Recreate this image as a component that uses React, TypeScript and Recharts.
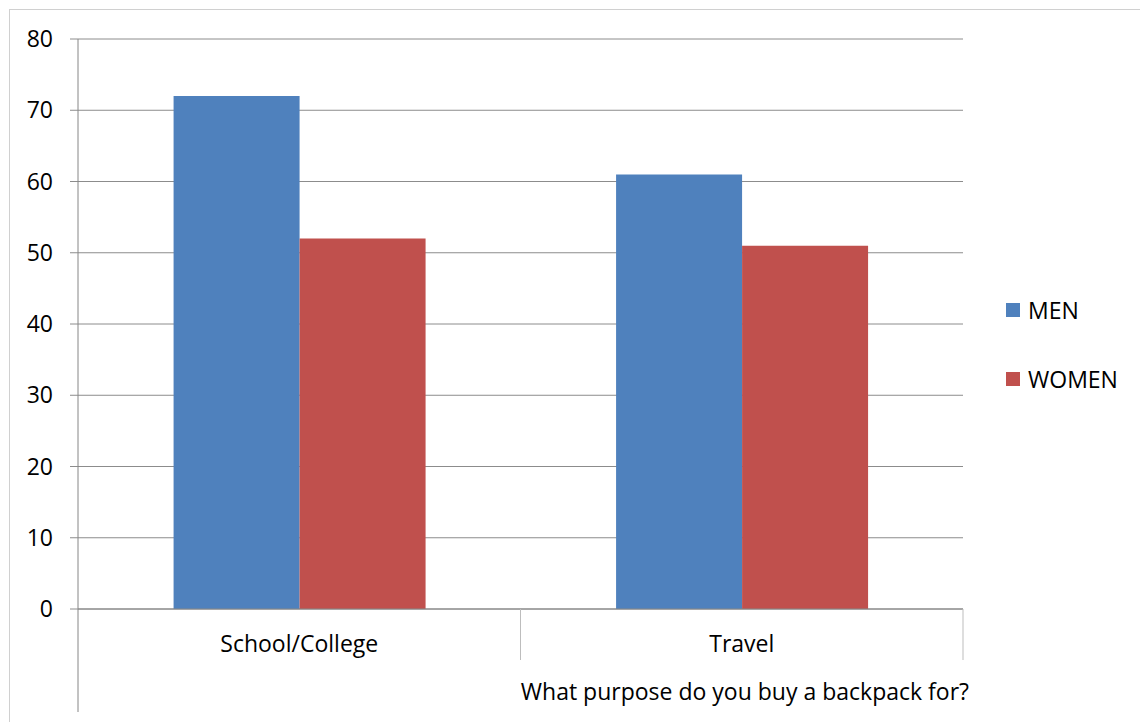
import React from 'react';
import { BarChart, Bar, XAxis, YAxis, CartesianGrid, Legend, Label } from 'recharts';

const categories = ['School/College', 'Travel'];
const menValues = [72, 61];
const womenValues = [52, 51];
const yTicks = [0, 10, 20, 30, 40, 50, 60, 70, 80];

const data = categories.map((c, i) => ({ purpose: c, MEN: menValues[i], WOMEN: womenValues[i] }));

const FONT = '"Open Sans", Lato, sans-serif';
const FS = 23;
const W = 1140;
const H = 722;
const PLOT_LEFT = 78;
const PLOT_RIGHT = 963;
const PLOT_BOTTOM = 609;

function CategoryTick(props: any) {
  const { x, y, payload, index } = props;
  const band = (PLOT_RIGHT - PLOT_LEFT) / categories.length;
  const left = x - band / 2;
  const right = x + band / 2;
  return (
    <g>
      {index === 0 && <line x1={left} y1={PLOT_BOTTOM} x2={left} y2={712} stroke="#868686" strokeWidth={1} />}
      <line x1={right} y1={PLOT_BOTTOM} x2={right} y2={660} stroke="#bdbdbd" strokeWidth={1} />
      <text x={x} y={y + 29} textAnchor="middle" dominantBaseline="middle" fontFamily={FONT} fontSize={FS} fill="#000">
        {payload.value}
      </text>
    </g>
  );
}

function LegendContent() {
  const items = [
    { name: 'MEN', color: '#4F81BD' },
    { name: 'WOMEN', color: '#C0504D' },
  ];
  return (
    <div>
      {items.map((it) => (
        <div key={it.name} style={{ display: 'flex', alignItems: 'center', height: 69 }}>
          <span style={{ width: 14, height: 14, background: it.color, display: 'inline-block', marginRight: 8 }} />
          <span style={{ fontFamily: FONT, fontSize: FS, color: '#000' }}>{it.name}</span>
        </div>
      ))}
    </div>
  );
}

export default function App() {
  return (
    <div style={{ position: 'absolute', left: 0, top: 0, width: W, height: H, background: '#fff' }}>
      <div style={{ position: 'absolute', left: 9, top: 9, right: 0, bottom: 0, borderLeft: '1px solid #d0d0d0', borderTop: '1px solid #d0d0d0' }} />
      <BarChart
        width={W}
        height={H}
        data={data}
        margin={{ top: 39, right: W - PLOT_RIGHT, left: PLOT_LEFT - 60, bottom: 0 }}
        barCategoryGap="21.6%"
        barGap={0}
      >
        <CartesianGrid vertical={false} stroke="#8c8c8c" />
        <YAxis
          width={60}
          domain={[0, 80]}
          ticks={yTicks}
          interval={0}
          tickSize={8}
          tickMargin={17}
          tickLine={{ stroke: '#8c8c8c' }}
          axisLine={{ stroke: '#868686' }}
          tick={{ fontFamily: FONT, fontSize: FS, fill: '#000' }}
        />
        <XAxis
          dataKey="purpose"
          height={H - PLOT_BOTTOM}
          axisLine={{ stroke: '#868686' }}
          tickLine={false}
          tick={<CategoryTick />}
          interval={0}
        >
          <Label
            value="What purpose do you buy a backpack for?"
            content={(p: any) => {
              const vb = p.viewBox;
              return (
                <text x={vb.x + vb.width + 6} y={694} textAnchor="end" dominantBaseline="middle" fontFamily={FONT} fontSize={FS} fill="#000">
                  What purpose do you buy a backpack for?
                </text>
              );
            }}
          />
        </XAxis>
        <Legend
          layout="vertical"
          align="center"
          verticalAlign="middle"
          content={<LegendContent />}
          wrapperStyle={{ left: 1006, top: 275, width: 134 }}
        />
        <Bar dataKey="MEN" fill="#4F81BD" isAnimationActive={false} />
        <Bar dataKey="WOMEN" fill="#C0504D" isAnimationActive={false} />
      </BarChart>
    </div>
  );
}
